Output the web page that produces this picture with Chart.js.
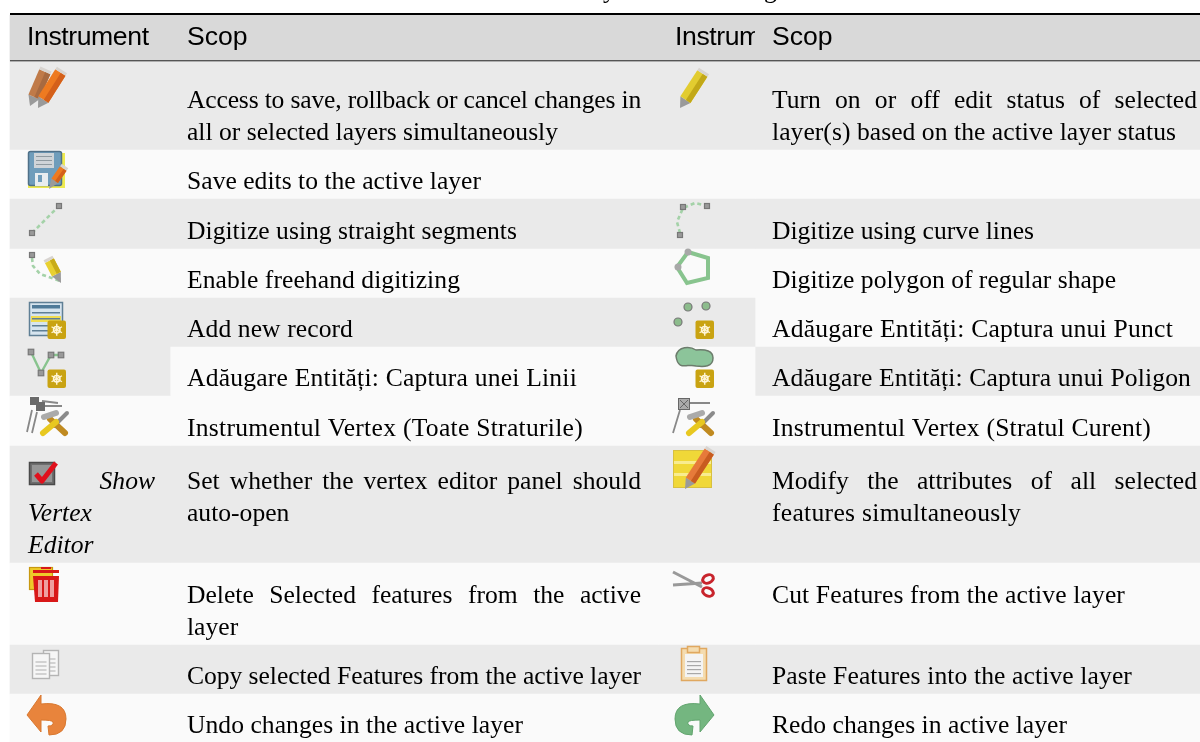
<!DOCTYPE html>
<html>
<head>
<meta charset="utf-8">
<style>
  html, body { margin: 0; padding: 0; background: #fff; overflow: hidden; }
  #toolsTable { display: block; }
</style>
<script src="https://cdn.jsdelivr.net/npm/chart.js@4"></script>
</head>
<body>
<canvas id="toolsTable" width="1200" height="742"></canvas>
<script>
const headers = ["Instrument", "Scop", "Instrument", "Scop"];
const colWidths = [160, 488, 97, 445];
const rowHeights = [46, 89, 49, 50, 49, 49, 49, 50, 117, 82, 49, 49];

// h = header, d = darker stripe, l = lighter stripe
const shadeCol1 = ["h", "d", "l", "d", "l", "d", "d", "l", "d", "l", "d", "l"];
const shadeCol2 = ["h", "d", "l", "d", "l", "d", "l", "l", "d", "l", "d", "l"];
const shadeCol3 = ["h", "d", "l", "d", "l", "d", "l", "l", "d", "l", "d", "l"];
const shadeCol4 = ["h", "d", "l", "d", "l", "l", "d", "l", "d", "l", "d", "l"];

const leftText = [
  ["Access to save, rollback or cancel changes in", "all or selected layers simultaneously"],
  ["Save edits to the active layer"],
  ["Digitize using straight segments"],
  ["Enable freehand digitizing"],
  ["Add new record"],
  ["Adăugare Entități: Captura unei Linii"],
  ["Instrumentul Vertex (Toate Straturile)"],
  ["Set whether the vertex editor panel should", "auto-open"],
  ["Delete Selected features from the active", "layer"],
  ["Copy selected Features from the active layer"],
  ["Undo changes in the active layer"]
];
const rightText = [
  ["Turn on or off edit status of selected", "layer(s) based on the active layer status"],
  [],
  ["Digitize using curve lines"],
  ["Digitize polygon of regular shape"],
  ["Adăugare Entități: Captura unui Punct"],
  ["Adăugare Entități: Captura unui Poligon"],
  ["Instrumentul Vertex (Stratul Curent)"],
  ["Modify the attributes of all selected", "features simultaneously"],
  ["Cut Features from the active layer"],
  ["Paste Features into the active layer"],
  ["Redo changes in active layer"]
];
const showVertexEditor = ["Show", "Vertex", "Editor"];
const rowLines = [2, 1, 1, 1, 1, 1, 1, 3, 2, 1, 1];

const TOP = 15, LEFT = 10, PAD = 17, LINE = 32, BASE_GAP = 9.9;
const SERIF = '25.6px "Liberation Serif"';
const SERIF_I = 'italic 25.6px "Liberation Serif"';
const SANS = '26.6px "Liberation Sans"';
const SHADES = { h: "#d9d9d9", d: "#eaeaea", l: "#fafafa" };
const JUSTIFY = { 1: 454, 3: 425 };
// right edge of the lines that are not justified, the serif in the reference runs a bit wider
const LINE_ENDS = {
  "all or selected layers simultaneously": 558, "Save edits to the active layer": 481,
  "Digitize using straight segments": 517, "Enable freehand digitizing": 460,
  "Add new record": 353, "Adăugare Entități: Captura unei Linii": 577,
  "Instrumentul Vertex (Toate Straturile)": 583, "Copy selected Features from the active layer": 641,
  "Undo changes in the active layer": 523, "layer(s) based on the active layer status": 1176,
  "Digitize using curve lines": 1034, "Digitize polygon of regular shape": 1116,
  "Adăugare Entități: Captura unui Punct": 1173, "Adăugare Entități: Captura unui Poligon": 1191,
  "Instrumentul Vertex (Stratul Curent)": 1151, "features simultaneously": 1021,
  "Cut Features from the active layer": 1125, "Paste Features into the active layer": 1132,
  "Redo changes in active layer": 1067
};

const rowEdges = [TOP];
rowHeights.forEach(h => rowEdges.push(rowEdges[rowEdges.length - 1] + h));
const colEdges = [LEFT];
colWidths.forEach(w => colEdges.push(colEdges[colEdges.length - 1] + w));

function colDataset(i, shades) {
  return {
    data: rowHeights.map((h, r) => ({ x: colEdges[i] + colWidths[i] / 2, y: [rowEdges[r], rowEdges[r + 1]] })),
    backgroundColor: shades.map(s => SHADES[s]),
    barThickness: colWidths[i],
    grouped: false,
    borderWidth: 0
  };
}

// ---- little toolbar icons ----
function pencil(c, tx, ty, ex, ey, w, col, dark) {
  const len = Math.hypot(ex - tx, ey - ty);
  c.save();
  c.translate(tx, ty);
  c.rotate(Math.atan2(ey - ty, ex - tx));
  c.fillStyle = "#9a9a9a";
  c.beginPath(); c.moveTo(0, 0); c.lineTo(10, -w / 2); c.lineTo(10, w / 2); c.closePath(); c.fill();
  c.fillStyle = col;
  c.fillRect(10, -w / 2, len - 13, w);
  c.fillStyle = dark;
  c.fillRect(10, 0.5, len - 13, w / 2 - 0.5);
  c.fillStyle = "#d8d4d0";
  c.fillRect(len - 3, -w / 2, 3, w);
  c.restore();
}
function handle(c, x, y, s) {
  c.fillStyle = "#999"; c.strokeStyle = "#777"; c.lineWidth = 1.2;
  c.fillRect(x - s / 2, y - s / 2, s, s); c.strokeRect(x - s / 2, y - s / 2, s, s);
}
function badge(c, x, y) {
  c.fillStyle = "#c9a312";
  c.beginPath(); c.roundRect(x, y, 18.5, 18.5, 2); c.fill();
  const cx = x + 9.25, cy = y + 9.25;
  c.strokeStyle = "#fff6d8"; c.lineWidth = 1.4;
  for (let a = 0; a < 3; a++) {
    const t = a * Math.PI / 3 + Math.PI / 2;
    c.beginPath(); c.moveTo(cx - 6 * Math.cos(t), cy - 6 * Math.sin(t)); c.lineTo(cx + 6 * Math.cos(t), cy + 6 * Math.sin(t)); c.stroke();
  }
  c.lineWidth = 1.6;
  c.beginPath(); c.arc(cx, cy, 3.2, 0, Math.PI * 2); c.stroke();
}
function dashed(c, pts) {
  c.strokeStyle = "#a4d2a8"; c.lineWidth = 2.6; c.setLineDash([4, 3]);
  c.beginPath(); pts.forEach((p, i) => i ? c.lineTo(p[0], p[1]) : c.moveTo(p[0], p[1])); c.stroke();
  c.setLineDash([]);
}
function tools(c, dx) {
  c.lineCap = "round";
  c.strokeStyle = "#8a8a8a"; c.lineWidth = 4;
  c.beginPath(); c.moveTo(dx + 713, 413); c.lineTo(dx + 700, 426); c.stroke();
  c.strokeStyle = "#c08a20"; c.lineWidth = 6;
  c.beginPath(); c.moveTo(dx + 711, 433); c.lineTo(dx + 696, 419); c.stroke();
  c.strokeStyle = "#e8c820"; c.lineWidth = 6;
  c.beginPath(); c.moveTo(dx + 689, 433); c.lineTo(dx + 702, 422); c.stroke();
  c.strokeStyle = "#aaa"; c.lineWidth = 6;
  c.beginPath(); c.moveTo(dx + 690, 417); c.lineTo(dx + 702, 413); c.stroke();
  c.lineCap = "butt";
}
function arrow(c, flip, col, edge) {
  c.save();
  if (flip) { c.translate(741, 0); c.scale(-1, 1); }
  c.fillStyle = col; c.strokeStyle = edge; c.lineWidth = 1;
  c.beginPath();
  c.moveTo(27, 715); c.lineTo(41, 695); c.lineTo(41, 704);
  c.quadraticCurveTo(66, 701, 66, 719);
  c.quadraticCurveTo(66, 735, 49, 735);
  c.lineTo(48, 726);
  c.quadraticCurveTo(54, 726, 53, 722);
  c.quadraticCurveTo(52, 720, 41, 720);
  c.lineTo(41, 732);
  c.closePath(); c.fill(); c.stroke();
  c.restore();
}
function drawIcons(c) {
  // row 1
  pencil(c, 30, 106, 46, 69, 12, "#c07a48", "#a86a40");
  pencil(c, 38, 108, 62, 70, 12, "#ee7a20", "#d4601a");
  pencil(c, 680, 108, 704, 71, 12, "#e2cc30", "#c2a818");
  // row 2 floppy
  c.fillStyle = "#eeea50"; c.fillRect(28, 153, 37, 35);
  c.fillStyle = "#6f9dbb"; c.strokeStyle = "#4f7088"; c.lineWidth = 1.5;
  c.beginPath(); c.roundRect(28.5, 151.5, 33, 34, 2); c.fill(); c.stroke();
  c.fillStyle = "#cfd4d8"; c.fillRect(34, 153, 20, 15);
  c.fillStyle = "#8f9aa0"; [156, 160, 164].forEach(y => c.fillRect(36, y, 16, 1));
  c.fillStyle = "#e8edf0"; c.fillRect(35, 173, 13, 13);
  c.fillStyle = "#6f9dbb"; c.fillRect(38, 175, 4, 7);
  pencil(c, 49, 189, 65, 166, 8, "#ee7a20", "#d4601a");
  // row 3
  dashed(c, [[32, 233], [59, 206]]);
  handle(c, 32, 233, 5); handle(c, 59, 206, 5);
  dashed(c, [[680, 233], [677, 222], [683, 208], [695, 203], [707, 206]]);
  handle(c, 680, 235, 5); handle(c, 683, 207, 5); handle(c, 707, 206, 5);
  // row 4
  dashed(c, [[32, 258], [33, 266], [40, 274], [60, 281]]);
  handle(c, 32, 255, 5);
  pencil(c, 61, 283, 48, 258, 10, "#e8d030", "#c8ac18");
  c.strokeStyle = "#88c48e"; c.lineWidth = 4;
  c.beginPath(); c.moveTo(688, 252); c.lineTo(708, 258); c.lineTo(708, 278); c.lineTo(687, 283); c.lineTo(677, 267); c.closePath(); c.stroke();
  c.fillStyle = "#a8a8a8"; c.beginPath(); c.arc(688, 252, 3.5, 0, 7); c.arc(678, 267, 3.5, 0, 7); c.fill();
  // row 5
  c.fillStyle = "#d6e4ee"; c.strokeStyle = "#5f7f95"; c.lineWidth = 1.5;
  c.fillRect(29.5, 302.5, 33, 33); c.strokeRect(29.5, 302.5, 33, 33);
  c.fillStyle = "#4f7a98"; c.fillRect(32, 305, 28, 3.5);
  c.fillStyle = "#f0dc50"; c.fillRect(31, 316, 30, 6);
  c.fillStyle = "#5f7f95"; [312, 318, 325, 330].forEach(y => c.fillRect(32, y, 28, 1.5));
  badge(c, 47.5, 320.5);
  c.fillStyle = "#8cbc8c"; c.strokeStyle = "#777"; c.lineWidth = 1.2;
  [[688, 307], [706, 306], [678, 322]].forEach(p => { c.beginPath(); c.arc(p[0], p[1], 4, 0, 7); c.fill(); c.stroke(); });
  badge(c, 695.5, 320.5);
  // row 6
  c.strokeStyle = "#88c48e"; c.lineWidth = 2.4;
  c.beginPath(); c.moveTo(31, 352); c.lineTo(41, 373); c.lineTo(51, 355); c.lineTo(61, 355); c.stroke();
  handle(c, 31, 352, 5.5); handle(c, 41, 373, 5.5); handle(c, 51, 355, 5.5); handle(c, 61, 355, 5.5);
  badge(c, 47.5, 369.5);
  c.fillStyle = "#8cc49a"; c.strokeStyle = "#6c7c6c"; c.lineWidth = 1.5;
  c.beginPath(); c.moveTo(676, 356);
  c.bezierCurveTo(678, 346, 690, 346, 696, 350);
  c.bezierCurveTo(706, 349, 713, 351, 713, 358);
  c.bezierCurveTo(713, 367, 704, 367, 696, 366);
  c.bezierCurveTo(688, 363, 678, 372, 676, 356);
  c.closePath(); c.fill(); c.stroke();
  badge(c, 695.5, 369.5);
  // row 7
  c.strokeStyle = "#888"; c.lineWidth = 1.8;
  c.beginPath(); c.moveTo(690, 403); c.lineTo(710, 403); c.moveTo(680, 410); c.lineTo(673, 433); c.stroke();
  c.fillStyle = "#aaa"; c.fillRect(678, 398, 12, 12);
  c.strokeStyle = "#666"; c.lineWidth = 1;
  c.strokeRect(678.5, 398.5, 11, 11);
  c.beginPath(); c.moveTo(680, 400); c.lineTo(688, 408); c.moveTo(688, 400); c.lineTo(680, 408); c.stroke();
  tools(c, 0);
  c.strokeStyle = "#888"; c.lineWidth = 1.8;
  c.beginPath(); c.moveTo(42, 401); c.lineTo(58, 403); c.moveTo(44, 406); c.lineTo(62, 406); c.moveTo(32, 410); c.lineTo(27, 432); c.moveTo(37, 412); c.lineTo(32, 433); c.stroke();
  c.fillStyle = "#6a6a6a"; c.fillRect(30, 397, 9, 8); c.fillRect(36, 402, 9, 9);
  tools(c, -646);
  // row 8
  c.fillStyle = "#6e6e6e"; c.strokeStyle = "#4a4a4a"; c.lineWidth = 1.5;
  c.fillRect(29.5, 462.5, 25, 22); c.strokeRect(29.5, 462.5, 25, 22);
  c.fillStyle = "#959595"; c.fillRect(32, 465, 20, 17);
  c.strokeStyle = "#e0101c"; c.lineWidth = 5; c.lineJoin = "round";
  c.beginPath(); c.moveTo(36, 474); c.lineTo(42, 481); c.lineTo(56, 463); c.stroke();
  c.lineJoin = "miter";
  c.fillStyle = "#f0d838"; c.fillRect(673, 450, 39, 38);
  c.fillStyle = "#f8ec90"; [461, 473].forEach(y => c.fillRect(673, y, 39, 3));
  c.strokeStyle = "#d8c040"; c.lineWidth = 1; c.strokeRect(673.5, 450.5, 38, 37);
  pencil(c, 685, 489, 711, 449, 11, "#e67a3a", "#c85c20");
  // row 9
  c.fillStyle = "#eecb2a"; c.strokeStyle = "#c89810"; c.lineWidth = 1.2;
  c.fillRect(29.5, 567.5, 23, 22); c.strokeRect(29.5, 567.5, 23, 22);
  c.fillStyle = "#d81818";
  c.fillRect(33, 570, 26, 3); c.fillRect(41, 567, 10, 2);
  c.beginPath(); c.moveTo(33, 576); c.lineTo(59, 576); c.lineTo(58, 602); c.lineTo(35, 602); c.closePath(); c.fill();
  c.fillStyle = "#eea0a0"; [38, 44, 50].forEach(x => c.fillRect(x, 580, 4, 17));
  c.strokeStyle = "#999"; c.lineWidth = 3;
  c.beginPath(); c.moveTo(673, 572); c.lineTo(702, 587); c.moveTo(673, 585); c.lineTo(702, 583); c.stroke();
  c.strokeStyle = "#c8242c"; c.lineWidth = 3;
  c.beginPath(); c.ellipse(708, 579, 5.5, 4, -0.4, 0, 7); c.stroke();
  c.beginPath(); c.ellipse(708, 592, 5.5, 4, 0.4, 0, 7); c.stroke();
  // row 10
  c.strokeStyle = "#b4b4b4"; c.lineWidth = 1.4;
  [[43.5, 650.5, 15, 25], [32.5, 653.5, 17, 25]].forEach(d => {
    c.fillStyle = "#f6f6f6"; c.fillRect(d[0], d[1], d[2], d[3]); c.strokeRect(d[0], d[1], d[2], d[3]);
    c.fillStyle = "#adadad";
    [8, 12, 16, 20].forEach(o => c.fillRect(d[0] + 3, d[1] + o, d[2] - 6, 1));
  });
  c.fillStyle = "#f4dcb0"; c.strokeStyle = "#e0a860"; c.lineWidth = 1.5;
  c.fillRect(681.5, 648.5, 25, 32); c.strokeRect(681.5, 648.5, 25, 32);
  c.fillStyle = "#f4f4f4"; c.fillRect(685, 654, 18, 23);
  c.fillStyle = "#a8a8a8"; [661, 665, 669, 673].forEach(y => c.fillRect(687, y, 14, 1.2));
  c.fillStyle = "#f4dcb0"; c.fillRect(687, 646, 13, 6); c.strokeRect(687.5, 646.5, 12, 6);
  // row 11
  arrow(c, false, "#e8843c", "#d87830");
  arrow(c, true, "#74b680", "#62a46e");
}

function putLine(c, text, x, y, justify) {
  c.wordSpacing = "0px";
  c.letterSpacing = "0px";
  const w = c.measureText(text).width;
  if (justify && w > justify) {
    // too long at this size, squeeze the letters and not the gaps
    c.letterSpacing = (justify - w) / text.length + "px";
  } else if (justify) {
    c.wordSpacing = (justify - w) / (text.split(" ").length - 1) + "px";
  } else if (LINE_ENDS[text]) {
    c.letterSpacing = (LINE_ENDS[text] - x - w) / text.length + "px";
  }
  c.fillText(text, x, y);
  c.wordSpacing = "0px";
  c.letterSpacing = "0px";
}

const tableText = {
  id: "tableText",
  afterDatasetsDraw(chart) {
    const c = chart.ctx, sx = chart.scales.x, sy = chart.scales.y;
    c.save();
    // rules above and below the header
    c.fillStyle = "#000";
    c.fillRect(sx.getPixelForValue(LEFT), sy.getPixelForValue(TOP - 2), sx.getPixelForValue(1200) - sx.getPixelForValue(LEFT), 2);
    c.fillStyle = "#555";
    c.fillRect(sx.getPixelForValue(LEFT), sy.getPixelForValue(rowEdges[1] - 1), sx.getPixelForValue(1200) - sx.getPixelForValue(LEFT), 1.4);

    c.filter = "blur(0.35px)";
    c.textBaseline = "alphabetic";
    c.fillStyle = "#000";
    // tail of the caption cut off by the page top
    c.font = SERIF;
    c.fillText("y", 603, -2);
    c.fillText("g", 764, -2);

    // header, third column text is cut by its cell
    c.font = SANS;
    headers.forEach((h, i) => {
      c.save();
      c.beginPath();
      c.rect(colEdges[i], rowEdges[0], colWidths[i], rowHeights[0]);
      c.clip();
      c.letterSpacing = h === "Instrument" ? "-0.4px" : "0px";
      c.fillText(h, sx.getPixelForValue(colEdges[i] + PAD), sy.getPixelForValue(rowEdges[1] - 16));
      c.restore();
    });

    // body
    c.font = SERIF;
    rowLines.forEach((n, r) => {
      const bottom = rowEdges[r + 2];
      const base = k => sy.getPixelForValue(bottom - BASE_GAP - LINE * (n - 1 - k));
      [[leftText, 1], [rightText, 3]].forEach(([src, col]) => {
        const lines = src[r];
        lines.forEach((t, k) => {
          putLine(c, t, sx.getPixelForValue(colEdges[col] + PAD), base(k), k < lines.length - 1 ? JUSTIFY[col] : 0);
        });
      });
    });

    // italic "Show Vertex Editor" in the first column
    const r8 = rowLines.indexOf(3);
    c.font = SERIF_I;
    showVertexEditor.forEach((t, k) => {
      const y = sy.getPixelForValue(rowEdges[r8 + 2] - BASE_GAP - LINE * (2 - k));
      const x = k === 0 ? colEdges[1] - 15 - c.measureText(t).width : colEdges[0] + PAD + 1;
      c.fillText(t, sx.getPixelForValue(x), y);
    });

    c.filter = "blur(0.6px)";
    drawIcons(c);
    c.filter = "none";
    c.restore();
  }
};

new Chart(document.getElementById("toolsTable"), {
  type: "bar",
  data: {
    datasets: [
      colDataset(0, shadeCol1),
      colDataset(1, shadeCol2),
      colDataset(2, shadeCol3),
      colDataset(3, shadeCol4)
    ]
  },
  options: {
    responsive: false,
    animation: false,
    layout: { padding: 0 },
    plugins: { legend: { display: false }, tooltip: { enabled: false } },
    scales: {
      x: { type: "linear", min: 0, max: 1200, offset: false, display: false },
      y: { type: "linear", min: 0, max: 742, reverse: true, display: false }
    }
  },
  plugins: [tableText]
});
</script>
</body>
</html>
